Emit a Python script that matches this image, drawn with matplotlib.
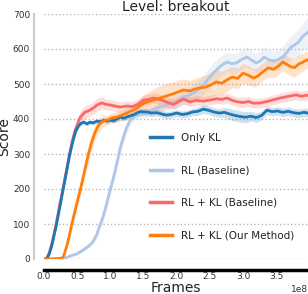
import numpy as np
import matplotlib
matplotlib.use('Agg')
import matplotlib.pyplot as plt

# x values in units of 1e8 frames
only_kl_x = [0.0, 0.04, 0.08, 0.12, 0.19, 0.24, 0.29, 0.34, 0.39, 0.44, 0.48, 0.52, 0.56, 0.6, 0.65,
             0.69, 0.74, 0.8, 0.86, 0.9, 0.95, 1.0, 1.05, 1.1, 1.15, 1.2, 1.25, 1.3, 1.35, 1.4,
             1.45, 1.55, 1.62, 1.7, 1.78, 1.85, 1.92, 2.0, 2.08, 2.16, 2.24, 2.32, 2.4, 2.48, 2.56,
             2.64, 2.72, 2.8, 2.88, 2.96, 3.04, 3.12, 3.2, 3.28, 3.36, 3.44, 3.52, 3.6, 3.68, 3.76,
             3.84, 3.92, 4.0]
only_kl_y = [0, 0, 15, 40, 100, 150, 200, 250, 300, 340, 366, 380, 388, 391, 386,
             391, 389, 394, 392, 397, 394, 397, 395, 400, 406, 402, 406, 409, 412, 417,
             421, 420, 417, 418, 414, 411, 413, 417, 413, 415, 420, 422, 428, 425, 420,
             417, 419, 414, 410, 407, 405, 408, 404, 410, 425, 421, 423, 419, 422, 418,
             416, 419, 416]
only_kl_sd = [0, 2, 4, 6, 6, 6, 6, 6, 6, 6, 6, 6, 6, 6, 6,
              6, 6, 6, 6, 6, 7, 7, 7, 8, 8, 8, 8, 8, 10, 10,
              10, 10, 10, 10, 10, 10, 10, 10, 10, 10, 10, 12, 12, 12, 12,
              12, 14, 16, 16, 16, 16, 14, 14, 12, 12, 12, 12, 12, 12, 12,
              12, 12, 12]

rl_x = [0.0, 0.1, 0.2, 0.27, 0.34, 0.4, 0.5, 0.6, 0.68, 0.74, 0.8, 0.84, 0.88, 0.92, 0.96,
        1.0, 1.05, 1.1, 1.15, 1.2, 1.25, 1.3, 1.35, 1.4, 1.47, 1.55, 1.62, 1.7, 1.78, 1.85,
        1.92, 2.0, 2.1, 2.2, 2.3, 2.4, 2.48, 2.55, 2.6, 2.65, 2.7, 2.76, 2.83, 2.9, 2.98,
        3.06, 3.13, 3.2, 3.26, 3.32, 3.38, 3.45, 3.52, 3.6, 3.66, 3.72, 3.78, 3.84, 3.9, 3.96,
        4.0]
rl_y = [0, 0, 0, 0, 4, 9, 15, 27, 38, 50, 72, 95, 115, 140, 170,
        200, 235, 275, 318, 350, 377, 397, 406, 411, 414, 417, 424, 431, 436, 440,
        446, 449, 462, 469, 480, 497, 515, 531, 540, 549, 556, 563, 558, 560, 570,
        577, 568, 560, 566, 577, 570, 566, 569, 577, 590, 605, 612, 620, 636, 645,
        652]
rl_sd = [0, 0, 0, 1, 2, 3, 4, 5, 6, 8, 10, 12, 14, 16, 18,
         20, 20, 20, 20, 18, 16, 14, 12, 10, 10, 10, 10, 12, 14, 16,
         18, 20, 22, 24, 26, 28, 30, 30, 30, 28, 28, 28, 28, 28, 28,
         28, 28, 28, 28, 28, 28, 28, 28, 30, 32, 34, 36, 38, 40, 42,
         42]

rlkl_base_x = [0.0, 0.04, 0.08, 0.12, 0.17, 0.23, 0.29, 0.34, 0.39, 0.43, 0.47, 0.51, 0.54, 0.58, 0.62,
               0.68, 0.74, 0.8, 0.87, 0.93, 1.0, 1.07, 1.15, 1.21, 1.27, 1.33, 1.4, 1.45, 1.5, 1.58,
               1.65, 1.72, 1.8, 1.88, 1.95, 2.03, 2.1, 2.2, 2.3, 2.4, 2.5, 2.6, 2.68, 2.76, 2.84,
               2.92, 3.0, 3.08, 3.16, 3.26, 3.36, 3.46, 3.56, 3.64, 3.72, 3.8, 3.88, 3.96, 4.0]
rlkl_base_y = [0, 0, 18, 45, 88, 148, 205, 255, 305, 340, 368, 388, 403, 412, 420,
               424, 431, 440, 446, 442, 440, 437, 434, 436, 437, 435, 440, 446, 454, 456,
               460, 457, 452, 446, 442, 450, 457, 449, 453, 451, 454, 458, 456, 460, 453,
               449, 447, 450, 445, 446, 450, 455, 460, 463, 466, 469, 465, 468, 467]
rlkl_base_sd = [0, 2, 5, 8, 8, 8, 8, 8, 10, 12, 14, 16, 18, 18, 18,
                18, 18, 18, 17, 16, 15, 15, 15, 15, 15, 15, 15, 15, 15, 15,
                15, 15, 15, 15, 15, 14, 14, 14, 14, 14, 14, 14, 14, 14, 14,
                14, 14, 14, 14, 14, 14, 14, 14, 14, 14, 14, 14, 14, 14]

ours_x = [0.0, 0.1, 0.2, 0.27, 0.3, 0.34, 0.38, 0.42, 0.48, 0.55, 0.61, 0.67, 0.72, 0.77, 0.81,
          0.85, 0.9, 0.95, 1.02, 1.1, 1.17, 1.25, 1.32, 1.4, 1.46, 1.52, 1.58, 1.65, 1.72, 1.8,
          1.88, 1.95, 2.02, 2.1, 2.2, 2.28, 2.36, 2.44, 2.52, 2.6, 2.68, 2.76, 2.84, 2.92, 3.0,
          3.08, 3.16, 3.22, 3.3, 3.38, 3.46, 3.54, 3.6, 3.66, 3.72, 3.78, 3.84, 3.9, 3.96, 4.0]
ours_y = [0, 0, 1, 2, 10, 35, 65, 100, 148, 200, 250, 300, 335, 362, 378,
          388, 395, 397, 403, 406, 411, 417, 423, 431, 440, 446, 450, 454, 458, 463,
          468, 472, 477, 483, 480, 486, 489, 491, 498, 506, 502, 512, 520, 516, 531,
          525, 517, 522, 535, 546, 542, 552, 563, 556, 549, 547, 557, 562, 569, 566]
ours_sd = [0, 0, 1, 2, 4, 8, 12, 15, 18, 20, 22, 24, 24, 22, 20,
           18, 16, 14, 14, 15, 15, 16, 18, 20, 22, 25, 28, 32, 35, 36,
           36, 35, 34, 32, 30, 30, 32, 34, 36, 36, 34, 32, 30, 30, 28,
           28, 26, 26, 25, 25, 24, 24, 24, 25, 26, 28, 28, 26, 24, 24]

labels = ['Only KL', 'RL (Baseline)', 'RL + KL (Baseline)', 'RL + KL (Our Method)']
colors = ['#1f77b4', '#aec7e8', '#fc6868', '#ff7f0e']

series = [
    (rl_x, rl_y, rl_sd, 1),
    (rlkl_base_x, rlkl_base_y, rlkl_base_sd, 2),
    (only_kl_x, only_kl_y, only_kl_sd, 0),
    (ours_x, ours_y, ours_sd, 3),
]

fig = plt.figure(figsize=(3.08, 2.94), dpi=100)
ax = fig.add_axes([44 / 308, 35 / 294, 264 / 308, 245 / 294])

handles = {}
for xs, ys, sd, k in series:
    xs = np.array(xs) * 1e8
    ys = np.array(ys, dtype=float)
    sd = np.array(sd, dtype=float)
    ax.fill_between(xs, ys - sd, ys + sd, color=colors[k], alpha=0.22, linewidth=0)
    line, = ax.plot(xs, ys, color=colors[k], linewidth=2.0, label=labels[k])
    handles[k] = line

ax.set_xlim(0, 3.98e8)
ax.set_ylim(0, 700)
ax.set_yticks(range(0, 701, 100))
ax.set_xticks(np.arange(0, 3.6e8, 0.5e8))

ax.yaxis.grid(True, linestyle=':', color='#b8b8b8', linewidth=1.0)
ax.set_axisbelow(True)

for s in ['top', 'right']:
    ax.spines[s].set_visible(False)
ax.spines['left'].set_position(('outward', 7))
ax.spines['left'].set_color('#cccccc')
ax.spines['left'].set_linewidth(1.5)
ax.spines['bottom'].set_position(('outward', 8))
ax.spines['bottom'].set_color('black')
ax.spines['bottom'].set_linewidth(2.5)

ax.tick_params(axis='y', length=0, labelsize=6.5, labelcolor='#333333', pad=3)
ax.tick_params(axis='x', length=0, labelsize=6.5, labelcolor='#333333', pad=1.5)
ax.xaxis.get_offset_text().set_fontsize(6.5)
ax.xaxis.get_offset_text().set_color('#333333')

ax.set_title('Level: breakout', fontsize=10, pad=2, color='#222222')
ax.set_xlabel('Frames', fontsize=10, labelpad=0, color='#222222')
ax.set_ylabel('Score', fontsize=10, color='#222222')
ax.yaxis.set_label_coords(-0.125, 0.5)

leg = ax.legend([handles[i] for i in range(4)], labels, loc='upper left',
                bbox_to_anchor=(0.38, 0.535), frameon=False, fontsize=7.5,
                labelspacing=2.15, handlelength=2.2, handletextpad=0.85, borderpad=0)
for t in leg.get_texts():
    t.set_color('#222222')
for h in leg.get_lines():
    h.set_linewidth(2.5)

fig.savefig('out.png', dpi=100)
